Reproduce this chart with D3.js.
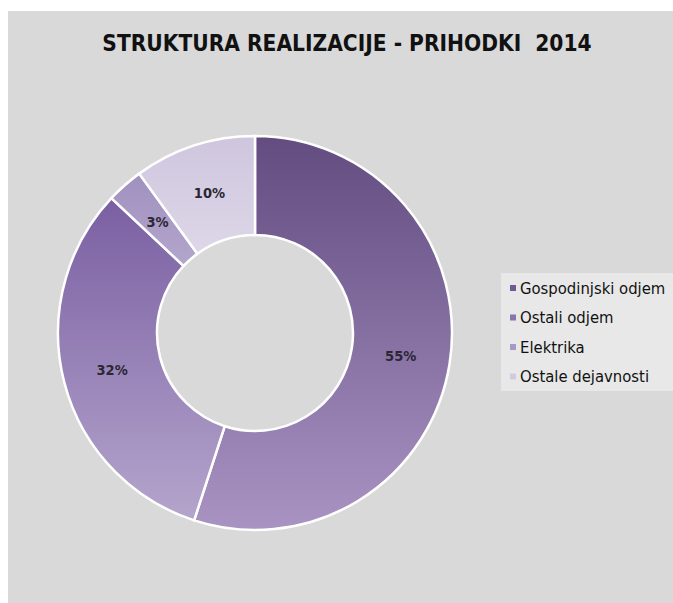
<!DOCTYPE html>
<html>
<head>
<meta charset="utf-8">
<script src="https://cdn.jsdelivr.net/npm/d3@7"></script>
<style>
  html, body { margin: 0; padding: 0; background: #fff; }
  svg { display: block; }
</style>
</head>
<body>
<svg id="chart"></svg>
<script>
const categories = ['Gospodinjski odjem', 'Ostali odjem', 'Elektrika', 'Ostale dejavnosti'];
const shares = [55, 32, 3, 10];
const labels = ['55%', '32%', '3%', '10%'];
// top / bottom colour of each slice gradient
const topColors = ['#624c80', '#7a5fa2', '#a090bf', '#cfc6de'];
const bottomColors = ['#a893c3', '#b4a5cc', '#b3a6cb', '#ddd7e8'];
const legendColors = ['#6f5a92', '#8a74ac', '#a898c6', '#d2cbdf'];

const W = 673, H = 603;
const svg = d3.select('#chart').attr('width', W).attr('height', H);

// grey panel
svg.append('rect').attr('x', 8).attr('y', 11).attr('width', W - 8).attr('height', H - 11).attr('fill', '#d9d9d9');

// Title
svg.append('text')
    .attr('x', 347).attr('y', 51)
    .attr('text-anchor', 'middle')
    .attr('font-family', 'DejaVu Sans Condensed, sans-serif')
    .attr('font-size', '22.5px').attr('font-weight', 'bold').attr('fill', '#111')
    .attr('xml:space', 'preserve')
    .text('STRUKTURA REALIZACIJE - PRIHODKI  2014');

const defs = svg.append('defs');
categories.forEach((c, i) => {
    const g = defs.append('linearGradient').attr('id', 'grad' + i)
        .attr('x1', 0).attr('y1', 0).attr('x2', 0).attr('y2', 1);
    g.append('stop').attr('offset', '0%').attr('stop-color', topColors[i]);
    g.append('stop').attr('offset', '100%').attr('stop-color', bottomColors[i]);
});

const cx = 255, cy = 333, outerR = 197, innerR = 98;
const pie = d3.pie().sort(null).value(d => d.v);
const arc = d3.arc().innerRadius(innerR).outerRadius(outerR);
const data = pie(categories.map((c, i) => ({ c, v: shares[i], i })));

const g = svg.append('g').attr('transform', `translate(${cx},${cy})`);
g.selectAll('path').data(data).enter().append('path')
    .attr('d', arc)
    .attr('fill', d => `url(#grad${d.data.i})`)
    .attr('stroke', '#fff').attr('stroke-width', 2.5);

g.selectAll('text.lbl').data(data).enter().append('text')
    .attr('class', 'lbl')
    .attr('transform', d => `translate(${arc.centroid(d)})`)
    .attr('text-anchor', 'middle').attr('dy', '0.35em')
    .attr('font-family', 'DejaVu Sans Condensed, sans-serif')
    .attr('font-size', '14.5px').attr('font-weight', 'bold').attr('fill', '#2b2733')
    .text(d => labels[d.data.i]);

// Legend
const lg = svg.append('g').attr('transform', 'translate(501,273)');
lg.append('rect').attr('width', 172).attr('height', 118).attr('fill', '#e8e8e8');
const item = lg.selectAll('g.item').data(categories).enter().append('g')
    .attr('class', 'item')
    .attr('transform', (d, i) => `translate(0,${15 + i * 29.5})`);
item.append('rect').attr('x', 9).attr('y', -3).attr('width', 6).attr('height', 6)
    .attr('fill', (d, i) => legendColors[i]);
item.append('text').attr('x', 19).attr('dy', '0.35em')
    .attr('font-family', 'DejaVu Sans Condensed, sans-serif')
    .attr('font-size', '16.5px').attr('fill', '#111')
    .text(d => d);
</script>
</body>
</html>
